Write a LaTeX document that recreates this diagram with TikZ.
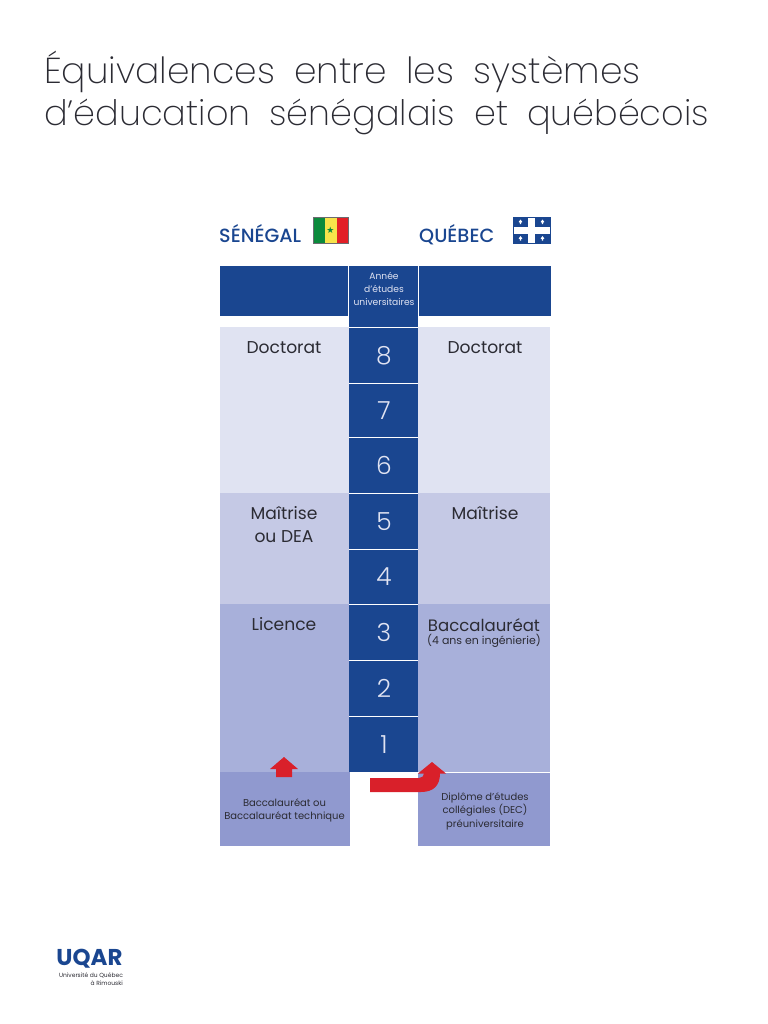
\documentclass[tikz,border=0pt]{standalone}
\usepackage{fontspec}
\setmainfont{Poppins}
\newfontfamily\ttlfont[UprightFont=* ExtraLight,WordSpace=1.9]{Poppins}
\newfontfamily\numfont[UprightFont=* Light]{Poppins}
\newfontfamily\medfont[UprightFont=* Medium]{Poppins}
\definecolor{navy}{HTML}{1A4690}
\definecolor{bandA}{HTML}{E0E3F2}
\definecolor{bandB}{HTML}{C5C9E5}
\definecolor{bandC}{HTML}{A8B0DA}
\definecolor{bandD}{HTML}{9099CF}
\definecolor{redarrow}{HTML}{D9202A}
\definecolor{ink}{HTML}{2B2B33}
\definecolor{sgreen}{HTML}{0B8A3C}
\definecolor{syellow}{HTML}{F7E34B}
\definecolor{sred}{HTML}{E21F26}
\tikzset{
  px/.style={x=1bp,y=-1bp},
  band/.style={anchor=north west,inner sep=0pt,outer sep=0pt,draw=none},
  yearbox/.style={anchor=north west,inner sep=0pt,outer sep=0pt,fill=navy,minimum width=69bp,text=bandA,font=\numfont\fontsize{25}{25}\selectfont},
  degree/.style={anchor=center,align=center,text=ink,font=\fontsize{17.2}{23}\selectfont},
  small/.style={anchor=center,align=center,text=ink,font=\fontsize{10}{13.5}\selectfont},
  country/.style={anchor=west,text=navy,font=\medfont\fontsize{19.2}{20}\selectfont},
  titleline/.style={anchor=west,inner sep=0pt,text=ink},
  redshape/.style={fill=redarrow,draw=none}
}
\newcommand{\bandbox}[6]{\node[band,fill=#6,minimum width=#4 bp,minimum height=#5 bp] (#1) at (#2,#3) {};}
\newcommand{\yearcell}[4]{\node[yearbox,minimum height=#3 bp] (#1) at (348.5,#2) {\hspace{2bp}\raisebox{-.6bp}{#4}};}
\begin{document}
\begin{tikzpicture}[px]
\useasboundingbox (0,0) rectangle (768,1024);
\node[titleline,font=\ttlfont\fontsize{36.2}{46}\selectfont] (t1) at (44,71.5) {Équivalences entre les systèmes};
\node[titleline,font=\ttlfont\fontsize{35.2}{46}\selectfont] (t2) at (44,117) {d’éducation sénégalais et québécois};
% headings
\node[country,inner sep=0pt] (sn) at (219,234) {SÉNÉGAL};
\node[country,inner sep=0pt] (qc) at (419,235) {QUÉBEC};
% Senegal flag
\fill[sgreen] (313,217) rectangle (325,243);
\fill[syellow] (325,217) rectangle (337,243);
\fill[sred] (337,217) rectangle (348,243);
\draw[ink!70,line width=.5bp] (313,217) rectangle (348,243);
\node[inner sep=0pt,text=sgreen,font=\fontsize{9}{9}\selectfont] (star) at (330.5,230) {\fontspec{DejaVu Sans}★};
% Quebec flag
\fill[navy] (513,216.5) rectangle (550.5,243.5);
\fill[white] (514,226.5) rectangle (549.5,233.5);
\fill[white] (528,217.5) rectangle (535,242.5);
\foreach \fx/\fy in {520.5/222,542.5/222,520.5/238.5,542.5/238.5}{
  \fill[white] (\fx,\fy-2.5) -- (\fx+1.8,\fy) -- (\fx+.6,\fy+.6) -- (\fx+.6,\fy+2.2) -- (\fx-.6,\fy+2.2) -- (\fx-.6,\fy+.6) -- (\fx-1.8,\fy) -- cycle;
}
% header
\bandbox{hl}{220}{266}{127.5}{50}{navy}
\bandbox{hr}{418.7}{266}{132}{50}{navy}
\node[yearbox,minimum height=61bp] (hm) at (348.5,266) {};
\node[align=center,text=bandA,inner sep=0pt,font=\fontsize{9.2}{13}\selectfont] (hmt) at (384,289) {Année\\d’études\\universitaires};
% left bands
\bandbox{l1}{220}{327}{129}{166}{bandA}
\bandbox{l2}{220}{493}{129}{111}{bandB}
\bandbox{l3}{220}{604}{129}{168}{bandC}
\bandbox{l4}{220}{772}{129.5}{74}{bandD}
% right bands
\bandbox{r1}{418}{327}{132}{166}{bandA}
\bandbox{r2}{418}{493}{132}{111}{bandB}
\bandbox{r3}{418}{604}{132}{168}{bandC}
\bandbox{r4}{418}{773}{132}{73}{bandD}
% years
\yearcell{y8}{328}{55}{8}
\yearcell{y7}{384}{53}{7}
\yearcell{y6}{438}{55}{6}
\yearcell{y5}{494}{55}{5}
\yearcell{y4}{550}{54}{4}
\yearcell{y3}{605}{55}{3}
\yearcell{y2}{661}{55}{2}
\yearcell{y1}{717}{55}{1}
% labels
\node[degree] (ld) at (284,347.5) {Doctorat};
\node[degree] (rd) at (485,347.5) {Doctorat};
\node[degree] (lm) at (284,524.5) {Maîtrise\\ou DEA};
\node[degree] (rm) at (485,513) {Maîtrise};
\node[degree] (ll) at (284,624) {Licence};
\node[degree,font=\fontsize{16.6}{23}\selectfont] (rb) at (484,625) {Baccalauréat};
\node[small,font=\fontsize{11}{13}\selectfont] (rbs) at (484,640.5) {(4 ans en ingénierie)};
\node[small] (lbac) at (284.5,810.5) {Baccalauréat ou\\Baccalauréat technique};
\node[small] (rdec) at (485,811) {Diplôme d’études\\collégiales (DEC)\\préuniversitaire};
% red arrows
\fill[redshape] (284,757) -- (298,769) -- (292,769) -- (292,777) -- (276,777) -- (276,769) -- (270,769) -- cycle;
\fill[redshape] (370,778) -- (419,778) .. controls (422,778) and (424,776) .. (424,773.5) -- (418,773.5) -- (432,762) -- (446,773.5) -- (440,773.5) .. controls (440,785) and (434,792) .. (421,792) -- (370,792) -- cycle;
% logo
\node[anchor=center,inner sep=0pt,text=navy,font=\bfseries\fontsize{23}{23}\selectfont] (uqar) at (89.5,959) {UQAR};
\node[anchor=center,align=right,inner sep=0pt,text=ink,font=\fontsize{6}{7.6}\selectfont] (uqars) at (91,979) {Université du Québec\\à Rimouski};
\end{tikzpicture}
\end{document}
